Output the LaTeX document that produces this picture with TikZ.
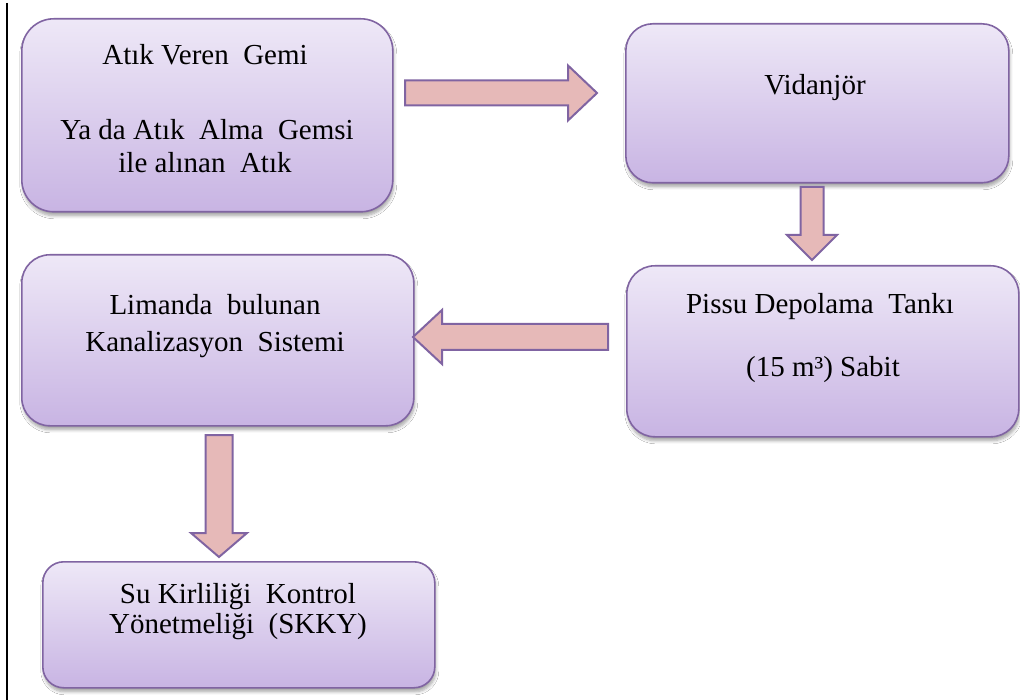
\documentclass[tikz,border=0pt]{standalone}
\usepackage{fontspec}
\setmainfont{Liberation Serif}
\usetikzlibrary{calc,shadows.blur}

\definecolor{boxtop}{HTML}{EEE8F7}
\definecolor{boxbot}{HTML}{C8B4E3}
\definecolor{edge}{HTML}{8064A2}
\definecolor{arrowfill}{HTML}{E6B9B8}

\tikzset{
  flowbox/.style={draw=edge, line width=1.6pt, top color=boxtop, bottom color=boxbot,
    anchor=north west, inner sep=0pt,
    blur shadow={shadow xshift=1pt, shadow yshift=-4pt, shadow blur radius=3pt,
      shadow blur steps=6, shadow opacity=35}},
  boxtext/.style={anchor=base, inner sep=0pt, font=\fontsize{29}{33}\selectfont},
  barrow/.style={draw=edge, line width=2pt, fill=arrowfill, line join=miter},
}

% block arrow: tail, tip, shaft half-width, head half-width, head length
\newcommand\blockarrow[5]{%
  \coordinate (hb) at ($(#2)!#5!(#1)$);
  \draw[barrow]
    ($(#1)!#3!90:(#2)$) -- ($(hb)!#3!90:(#2)$) -- ($(hb)!#4!90:(#2)$) -- (#2)
    -- ($(hb)!#4!-90:(#2)$) -- ($(hb)!#3!-90:(#2)$) -- ($(#1)!#3!-90:(#2)$) -- cycle;
}

\begin{document}
\begin{tikzpicture}[x=1pt, y=-1pt]
  \useasboundingbox (0,0) rectangle (1020,700);
  \fill[white] (0,0) rectangle (1020,700);

  % left rule
  \draw[black, line width=1.4pt] (7,3) -- (7,700);

  % boxes
  \node[flowbox, rounded corners=32pt, minimum width=371pt, minimum height=193pt] (b1) at (21,18) {};
  \node[flowbox, rounded corners=27pt, minimum width=383pt, minimum height=159pt] (b2) at (625,23) {};
  \node[flowbox, rounded corners=28pt, minimum width=392pt, minimum height=171pt] (b3) at (626,265) {};
  \node[flowbox, rounded corners=28pt, minimum width=392pt, minimum height=171pt] (b4) at (21,254) {};
  \node[flowbox, rounded corners=21pt, minimum width=392pt, minimum height=126pt] (b5) at (42,561) {};

  % texts
  \node[boxtext] (t1a) at (205,65)  {Atık Veren~ Gemi};
  \node[boxtext] (t1b) at (207,140) {Ya da Atık~ Alma~ Gemsi};
  \node[boxtext] (t1c) at (205,173) {ile alınan~ Atık};
  \node[boxtext] (t2)  at (815,95)  {Vidanjör};
  \node[boxtext] (t3a) at (820,314) {Pissu Depolama~ Tankı};
  \node[boxtext] (t3b) at (823,377) {(15 m³) Sabit};
  \node[boxtext] (t4a) at (215,315) {Limanda~ bulunan};
  \node[boxtext] (t4b) at (215,352) {Kanalizasyon~ Sistemi};
  \node[boxtext] (t5a) at (238,603) {Su Kirliliği~ Kontrol};
  \node[boxtext] (t5b) at (238,633) {Yönetmeliği~ (SKKY)};

  % arrow end points
  \coordinate (a1s) at (405,93);  \coordinate (a1e) at (597,93);
  \coordinate (a2s) at (812,187); \coordinate (a2e) at (812,260);
  \coordinate (a3s) at (608,337); \coordinate (a3e) at (413,337);
  \coordinate (a4s) at (219,435); \coordinate (a4e) at (219,557);

  \blockarrow{a1s}{a1e}{12.5pt}{27.5pt}{29pt}
  \blockarrow{a2s}{a2e}{11.5pt}{25pt}{25pt}
  \blockarrow{a3s}{a3e}{13pt}{27pt}{29pt}
  \blockarrow{a4s}{a4e}{13.5pt}{28pt}{24pt}
\end{tikzpicture}
\end{document}
